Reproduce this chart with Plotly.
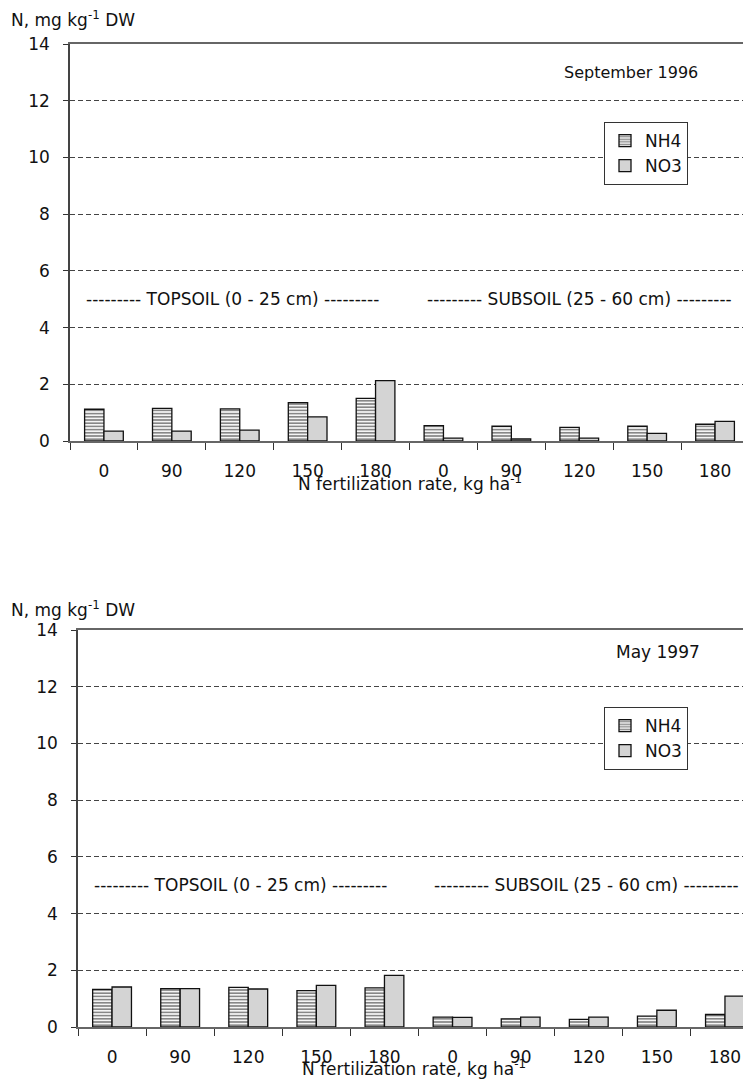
import plotly.graph_objects as go

rates = ["0", "90", "120", "150", "180", "0", "90", "120", "150", "180"]
positions = list(range(len(rates)))

sep96_nh4 = [1.12, 1.15, 1.13, 1.35, 1.50, 0.54, 0.52, 0.48, 0.52, 0.59]
sep96_no3 = [0.35, 0.35, 0.38, 0.85, 2.13, 0.10, 0.07, 0.10, 0.27, 0.69]

may97_nh4 = [1.33, 1.35, 1.40, 1.28, 1.38, 0.35, 0.29, 0.27, 0.38, 0.44]
may97_no3 = [1.41, 1.35, 1.34, 1.47, 1.82, 0.34, 0.35, 0.35, 0.59, 1.09]

FONT = "DejaVu Sans, Liberation Sans, Arial, sans-serif"
OFF = 8  # default page body margin
W, H = 751 - OFF, 1082 - OFF
FS = 17


def PX(x):
    return (x - OFF) / W


def PY(y):
    return 1 - (y - OFF) / H


fig = go.Figure()

nh4_marker = dict(color="#f4f4f4", line=dict(color="#111", width=1.3),
                  pattern=dict(shape="-", fgcolor="#1a1a1a", size=3.2, solidity=0.5, fillmode="overlay"))
no3_marker = dict(color="#d4d4d4", line=dict(color="#111", width=1.3))

fig.add_trace(go.Bar(x=positions, y=sep96_nh4, name="NH4", marker=nh4_marker,
                     xaxis="x", yaxis="y", legend="legend"))
fig.add_trace(go.Bar(x=positions, y=sep96_no3, name="NO3", marker=no3_marker,
                     xaxis="x", yaxis="y", legend="legend"))
fig.add_trace(go.Bar(x=positions, y=may97_nh4, name="NH4", marker=nh4_marker,
                     xaxis="x2", yaxis="y2", legend="legend2"))
fig.add_trace(go.Bar(x=positions, y=may97_no3, name="NO3", marker=no3_marker,
                     xaxis="x2", yaxis="y2", legend="legend2"))

common_x = dict(
    tickmode="array", tickvals=positions, ticktext=rates, ticks="",
    showgrid=False, zeroline=False, showline=True, linecolor="#666", linewidth=1.5,
    mirror=True,
    minor=dict(ticks="outside", tickmode="linear", tick0=-0.5, dtick=1, ticklen=7,
               tickcolor="#333", showgrid=False),
    tickfont=dict(size=FS, color="#111", family=FONT),
    ticklabelstandoff=14,
    automargin=False,
)
common_y = dict(
    range=[0, 14], tickmode="linear", tick0=0, dtick=2, ticks="outside", ticklen=5,
    tickcolor="#333", showgrid=True, gridcolor="#444", griddash="5px,3px", gridwidth=1,
    zeroline=False, showline=True, linecolor="#444", linewidth=1.5, mirror=True,
    tickfont=dict(size=FS, color="#111", family=FONT),
    ticklabelstandoff=10, automargin=False,
)

legend_common = dict(xanchor="left", yanchor="top", bgcolor="white", bordercolor="#333",
                     borderwidth=1, font=dict(size=FS, family=FONT, color="#111"),
                     itemwidth=30, tracegroupgap=0)

fig.update_layout(
    width=W, height=H,
    margin=dict(l=0, r=0, t=0, b=0),
    paper_bgcolor="white", plot_bgcolor="white",
    font=dict(family=FONT, color="#111"),
    barmode="group", bargap=0.43, bargroupgap=0,
    xaxis=dict(domain=[PX(70), PX(749)], range=[-0.5, 9.5], anchor="y", **common_x),
    yaxis=dict(domain=[PY(441), PY(44)], anchor="x", **common_y),
    xaxis2=dict(domain=[PX(78), 1.0], range=[-0.5, 9.5 - 8 / 68], anchor="y2", **common_x),
    yaxis2=dict(domain=[PY(1027), PY(630)], anchor="x2", **common_y),
    legend=dict(x=PX(604), y=PY(122), **legend_common),
    legend2=dict(x=PX(604), y=PY(707), **legend_common),
    showlegend=True,
)

ann_font = dict(size=FS, family=FONT, color="#111")
annotations = [
    dict(text="September 1996", x=PX(700), y=PY(72), xref="paper", yref="paper",
         xanchor="right", yanchor="middle", showarrow=False,
         font=dict(size=16, family=FONT, color="#111")),
    dict(text="May 1997", x=PX(702), y=PY(652), xref="paper", yref="paper",
         xanchor="right", yanchor="middle", showarrow=False, font=ann_font),
    dict(text="--------- TOPSOIL (0 - 25 cm) ---------", x=1.9, y=5, xref="x", yref="y",
         showarrow=False, font=ann_font),
    dict(text="--------- SUBSOIL (25 - 60 cm) ---------", x=7.0, y=5, xref="x", yref="y",
         showarrow=False, font=ann_font),
    dict(text="--------- TOPSOIL (0 - 25 cm) ---------", x=1.88, y=5, xref="x2", yref="y2",
         showarrow=False, font=ann_font),
    dict(text="--------- SUBSOIL (25 - 60 cm) ---------", x=6.97, y=5, xref="x2", yref="y2",
         showarrow=False, font=ann_font),
    dict(text="N, mg kg<sup>-1</sup> DW", x=PX(9), y=PY(19), xref="paper", yref="paper",
         xanchor="left", yanchor="middle", showarrow=False, font=ann_font),
    dict(text="N, mg kg<sup>-1</sup> DW", x=PX(9), y=PY(609), xref="paper", yref="paper",
         xanchor="left", yanchor="middle", showarrow=False, font=ann_font),
    dict(text="N fertilization rate, kg ha<sup>-1</sup>", x=PX(410), y=PY(483),
         xref="paper", yref="paper", xanchor="center", yanchor="middle", showarrow=False,
         font=ann_font),
    dict(text="N fertilization rate, kg ha<sup>-1</sup>", x=PX(414), y=PY(1068),
         xref="paper", yref="paper", xanchor="center", yanchor="middle", showarrow=False,
         font=ann_font),
]
fig.update_layout(annotations=annotations)

fig.write_html("out.html")
